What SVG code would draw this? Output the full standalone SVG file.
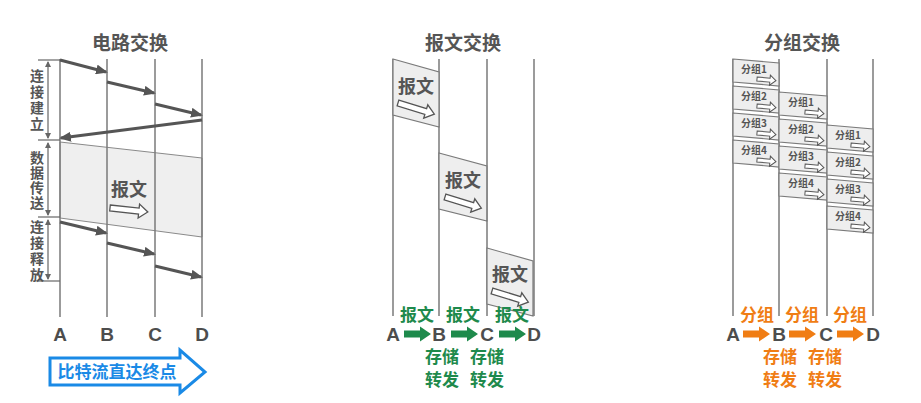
<svg xmlns="http://www.w3.org/2000/svg" xmlns:xlink="http://www.w3.org/1999/xlink" width="921" height="403" viewBox="0 0 921 403">
<style>
.vl{stroke:#7a7a7a;stroke-width:1.5;fill:none}
.title{font-family:"Noto Sans CJK SC","Noto Sans",sans-serif;font-weight:bold;font-size:19px;fill:#555;text-anchor:middle}
.side{font-family:"Noto Sans CJK SC",sans-serif;font-weight:bold;font-size:14px;fill:#555;writing-mode:vertical-rl;text-anchor:start}
.let{font-family:"Liberation Sans","Noto Sans",sans-serif;font-weight:bold;font-size:19px;fill:#4d4d4d;text-anchor:middle}
.msg{font-family:"Noto Sans CJK SC",sans-serif;font-weight:bold;font-size:18px;fill:#555;text-anchor:middle}
.pkt{font-family:"Noto Sans CJK SC",sans-serif;font-weight:bold;font-size:10px;fill:#555}
.grn{font-family:"Noto Sans CJK SC",sans-serif;font-weight:bold;font-size:17px;fill:#1e8a4c;text-anchor:middle}
.org{font-family:"Noto Sans CJK SC",sans-serif;font-weight:bold;font-size:17px;fill:#f07d14;text-anchor:middle}
.blu{font-family:"Noto Sans CJK SC",sans-serif;font-weight:bold;font-size:17px;fill:#1a8ae6;text-anchor:middle}
.thick{stroke:#555;stroke-width:3;fill:none;marker-end:url(#ah)}
.brk{stroke:#666;stroke-width:1.2;fill:none;marker-start:url(#sh);marker-end:url(#sh)}
.tick{stroke:#666;stroke-width:1.2}
.box{fill:#eeeeee;stroke:#7a7a7a;stroke-width:1.2}
.hol{fill:#fff;stroke:#555;stroke-width:1.3}
.holS{fill:#fff;stroke:#555;stroke-width:1}
</style>
<defs>
<marker id="ah" markerUnits="userSpaceOnUse" markerWidth="12" markerHeight="10" refX="10" refY="5" orient="auto">
<path d="M0,0 L12,5 L0,10 Z" fill="#555"/>
</marker>
<marker id="sh" markerUnits="userSpaceOnUse" markerWidth="6" markerHeight="6" refX="5" refY="3" orient="auto-start-reverse">
<path d="M0,0 L6,3 L0,6 Z" fill="#666"/>
</marker>
<path id="ha" d="M0,-3 L29,-3 L29,-7 L38,0 L29,7 L29,3 L0,3 Z"/>
<path id="hs" d="M0,-2 L13,-2 L13,-5 L19,0 L13,5 L13,2 L0,2 Z"/>
<path id="fa" d="M0,-3.5 L16,-3.5 L16,-7.5 L27,0 L16,7.5 L16,3.5 L0,3.5 Z"/>
<path id="pk46" d="M0,0 L46,4 L46,27 L0,23 Z"/>
<path id="pk48" d="M0,0 L48,4 L48,27 L0,23 Z"/>
<path id="mb" d="M0,0 L46,13 L46,68 L0,56 Z"/>
</defs>
<rect width="921" height="403" fill="#fff"/>

<!-- ===== Circuit switching ===== -->
<g id="circuit-title"><text class="title" x="130" y="50">电路交换</text></g>
<g id="circuit-data-region">
<polygon points="60,142 202,158 202,237 60,218" fill="#efefef" stroke="#8a8a8a" stroke-width="1"/>
<text class="msg" x="129" y="196">报文</text>
<use href="#ha" class="hol" transform="translate(110,208) rotate(6)"/>
</g>
<g id="circuit-lines">
<line class="vl" x1="60" y1="59" x2="60" y2="317"/>
<line class="vl" x1="107" y1="59" x2="107" y2="317"/>
<line class="vl" x1="155" y1="59" x2="155" y2="317"/>
<line class="vl" x1="202" y1="59" x2="202" y2="317"/>
</g>
<g id="circuit-phases">
<line class="tick" x1="38" y1="60" x2="60" y2="60"/>
<line class="tick" x1="38" y1="140" x2="60" y2="140"/>
<line class="tick" x1="38" y1="217" x2="60" y2="217"/>
<line class="tick" x1="38" y1="281" x2="60" y2="281"/>
<line class="brk" x1="48" y1="62" x2="48" y2="138"/>
<line class="brk" x1="48" y1="143" x2="48" y2="215"/>
<line class="brk" x1="48" y1="220" x2="48" y2="279"/>
<text class="side" x="37" y="69" letter-spacing="2">连接建立</text>
<text class="side" x="37" y="151" letter-spacing="1">数据传送</text>
<text class="side" x="37" y="220" letter-spacing="2">连接释放</text>
</g>
<g id="circuit-labels">
<text class="let" x="60" y="341">A</text>
<text class="let" x="107" y="341">B</text>
<text class="let" x="155" y="341">C</text>
<text class="let" x="202" y="341">D</text>
</g>
<g id="circuit-bitstream">
<polygon points="50,358 180,358 180,350 205,372 180,393 180,385 50,385" fill="#fff" stroke="#1a8ae6" stroke-width="3" stroke-linejoin="miter"/>
<text class="blu" x="117" y="378">比特流直达终点</text>
</g>

<!-- ===== Message switching ===== -->
<g id="message-title"><text class="title" x="463" y="50">报文交换</text></g>
<g id="message-lines">
<line class="vl" x1="393" y1="59" x2="393" y2="316"/>
<line class="vl" x1="439" y1="59" x2="439" y2="316"/>
<line class="vl" x1="487" y1="59" x2="487" y2="316"/>
<line class="vl" x1="534" y1="59" x2="534" y2="316"/>
</g>
<g id="msg-box-1" transform="translate(393,59)">
<use href="#mb" class="box"/>
<text class="msg" x="23" y="34">报文</text>
<use href="#ha" class="hol" transform="translate(5,44) rotate(17)"/>
</g>
<g id="msg-box-2" transform="translate(439,153)">
<use href="#mb" class="box" transform="scale(1.04,1)"/>
<text class="msg" x="24" y="34">报文</text>
<use href="#ha" class="hol" transform="translate(6,44) rotate(17)"/>
</g>
<g id="msg-box-3" transform="translate(487,248)">
<use href="#mb" class="box"/>
<text class="msg" x="23" y="33">报文</text>
<use href="#ha" class="hol" transform="translate(5,43) rotate(17)"/>
</g>
<g id="message-labels">
<text class="grn" x="417" y="321">报文</text>
<text class="grn" x="463" y="321">报文</text>
<text class="grn" x="512" y="321">报文</text>
<text class="let" x="393" y="341">A</text>
<text class="let" x="439" y="341">B</text>
<text class="let" x="487" y="341">C</text>
<text class="let" x="534" y="341">D</text>
<text class="grn" x="442" y="363">存储</text>
<text class="grn" x="487" y="363">存储</text>
<text class="grn" x="442" y="386">转发</text>
<text class="grn" x="487" y="386">转发</text>
</g>

<!-- ===== Packet switching ===== -->
<g id="packet-title"><text class="title" x="802" y="50">分组交换</text></g>
<g id="packet-lines">
<line class="vl" x1="733" y1="59" x2="733" y2="316"/>
<line class="vl" x1="779" y1="59" x2="779" y2="316"/>
<line class="vl" x1="827" y1="59" x2="827" y2="316"/>
<line class="vl" x1="873" y1="59" x2="873" y2="316"/>
</g>
<g id="pkA1" transform="translate(733,59)"><use href="#pk46" class="box"/><text class="pkt" x="8" y="14">分组1</text><use href="#hs" class="holS" transform="translate(24,20) rotate(5)"/></g>
<g id="pkA2" transform="translate(733,86)"><use href="#pk46" class="box"/><text class="pkt" x="8" y="14">分组2</text><use href="#hs" class="holS" transform="translate(24,20) rotate(5)"/></g>
<g id="pkA3" transform="translate(733,113)"><use href="#pk46" class="box"/><text class="pkt" x="8" y="14">分组3</text><use href="#hs" class="holS" transform="translate(24,20) rotate(5)"/></g>
<g id="pkA4" transform="translate(733,140)"><use href="#pk46" class="box"/><text class="pkt" x="8" y="14">分组4</text><use href="#hs" class="holS" transform="translate(24,20) rotate(5)"/></g>
<g id="pkB1" transform="translate(779,92)"><use href="#pk48" class="box"/><text class="pkt" x="9" y="14">分组1</text><use href="#hs" class="holS" transform="translate(26,20) rotate(5)"/></g>
<g id="pkB2" transform="translate(779,119)"><use href="#pk48" class="box"/><text class="pkt" x="9" y="14">分组2</text><use href="#hs" class="holS" transform="translate(26,20) rotate(5)"/></g>
<g id="pkB3" transform="translate(779,146)"><use href="#pk48" class="box"/><text class="pkt" x="9" y="14">分组3</text><use href="#hs" class="holS" transform="translate(26,20) rotate(5)"/></g>
<g id="pkB4" transform="translate(779,173)"><use href="#pk48" class="box"/><text class="pkt" x="9" y="14">分组4</text><use href="#hs" class="holS" transform="translate(26,20) rotate(5)"/></g>
<g id="pkC1" transform="translate(827,125)"><use href="#pk46" class="box"/><text class="pkt" x="8" y="14">分组1</text><use href="#hs" class="holS" transform="translate(24,20) rotate(5)"/></g>
<g id="pkC2" transform="translate(827,152)"><use href="#pk46" class="box"/><text class="pkt" x="8" y="14">分组2</text><use href="#hs" class="holS" transform="translate(24,20) rotate(5)"/></g>
<g id="pkC3" transform="translate(827,179)"><use href="#pk46" class="box"/><text class="pkt" x="8" y="14">分组3</text><use href="#hs" class="holS" transform="translate(24,20) rotate(5)"/></g>
<g id="pkC4" transform="translate(827,206)"><use href="#pk46" class="box"/><text class="pkt" x="8" y="14">分组4</text><use href="#hs" class="holS" transform="translate(24,20) rotate(5)"/></g>
<g id="packet-labels">
<text class="org" x="757" y="321">分组</text>
<text class="org" x="802" y="321">分组</text>
<text class="org" x="850" y="321">分组</text>
<text class="let" x="733" y="341">A</text>
<text class="let" x="779" y="341">B</text>
<text class="let" x="826" y="341">C</text>
<text class="let" x="873" y="341">D</text>
<text class="org" x="780" y="363">存储</text>
<text class="org" x="825" y="363">存储</text>
<text class="org" x="780" y="386">转发</text>
<text class="org" x="825" y="386">转发</text>
</g>

<!-- ===== Connectors ===== -->
<g id="connectors">
<line class="thick" x1="60" y1="60" x2="106" y2="72"/>
<line class="thick" x1="107" y1="82" x2="154" y2="93"/>
<line class="thick" x1="155" y1="104" x2="201" y2="115"/>
<line class="thick" x1="202" y1="120" x2="61" y2="138"/>
<line class="thick" x1="60" y1="222" x2="106" y2="233"/>
<line class="thick" x1="107" y1="243" x2="154" y2="254"/>
<line class="thick" x1="155" y1="266" x2="201" y2="277"/>
<use href="#fa" fill="#1e8a4c" transform="translate(404,334)"/>
<use href="#fa" fill="#1e8a4c" transform="translate(451,334)"/>
<use href="#fa" fill="#1e8a4c" transform="translate(499,334)"/>
<use href="#fa" fill="#f07d14" transform="translate(743,334)"/>
<use href="#fa" fill="#f07d14" transform="translate(789,334)"/>
<use href="#fa" fill="#f07d14" transform="translate(837,334)"/>
</g>
</svg>
